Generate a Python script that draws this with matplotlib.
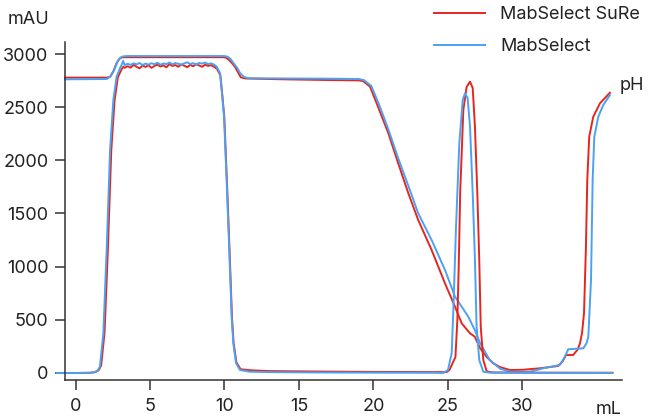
import matplotlib
matplotlib.use("Agg")
import matplotlib.pyplot as plt
from matplotlib.lines import Line2D

plt.rcParams['font.family'] = ['Inter', 'DejaVu Sans']

RED = '#e6261e'
BLUE = '#4ba1f3'

# UV trace, MabSelect SuRe (red)
sure_uv_x = [-1.25, 0, 1.0, 1.3, 1.55, 1.72, 1.95, 2.17, 2.4, 2.62, 2.84, 3.07, 3.2, 3.3,
             3.5, 3.7, 3.9, 4.1, 4.3, 4.5, 4.7, 4.9, 5.1, 5.3, 5.5, 5.7, 5.9, 6.1, 6.3,
             6.5, 6.7, 6.9, 7.1, 7.3, 7.5, 7.7, 7.9, 8.1, 8.3, 8.5, 8.7, 8.9, 9.1, 9.3,
             9.5, 9.72, 9.83, 9.99, 10.17, 10.34, 10.5, 10.61, 10.8, 11.08, 11.8, 13, 16,
             20, 24, 24.9, 25.1, 25.5, 25.63, 25.72, 25.82, 26.03, 26.25, 26.48, 26.66,
             26.81, 26.97, 27.1, 27.2, 27.37, 27.6, 28, 30, 36.05]
sure_uv_y = [0, 0, 2, 8, 25, 70, 380, 1150, 2090, 2560, 2780, 2850, 2880, 2870,
             2885, 2872, 2898, 2880, 2865, 2892, 2878, 2895, 2870, 2888, 2900, 2882,
             2893, 2875, 2905, 2888, 2896, 2880, 2902, 2890, 2876, 2898, 2885, 2905,
             2892, 2880, 2900, 2888, 2895, 2880,
             2860, 2800, 2650, 2400, 1780, 1150, 530, 285, 100, 35, 25, 18, 14,
             10, 8, 8, 28, 150, 500, 1000, 1700, 2473, 2690, 2740, 2680,
             2316, 1690, 1060, 432, 122, 15, 5, 3, 2]

# UV trace, MabSelect (blue)
mab_uv_x = [-1.25, 0, 1.0, 1.2, 1.45, 1.64, 1.87, 2.09, 2.32, 2.54, 2.76, 2.99, 3.1, 3.2, 3.3,
            3.5, 3.7, 3.9, 4.1, 4.3, 4.5, 4.7, 4.9, 5.1, 5.3, 5.5, 5.7, 5.9, 6.1, 6.3,
            6.5, 6.7, 6.9, 7.1, 7.3, 7.5, 7.7, 7.9, 8.1, 8.3, 8.5, 8.7, 8.9, 9.1, 9.3,
            9.48, 9.7, 9.81, 9.97, 10.15, 10.32, 10.48, 10.59, 10.77, 11.04, 11.7, 13, 16,
            20, 24, 24.68, 25.0, 25.25, 25.36, 25.54, 25.76, 25.99, 26.14, 26.32, 26.48,
            26.66, 26.81, 26.92, 27.1, 27.37, 27.8, 30, 36.0]
mab_uv_y = [0, 0, 2, 5, 15, 60, 375, 1157, 2097, 2567, 2787, 2868, 2900, 2935, 2895,
            2908, 2898, 2912, 2902, 2916, 2896, 2910, 2900, 2913, 2904, 2918, 2899,
            2911, 2905, 2920, 2903, 2915, 2908, 2900, 2912, 2922, 2906, 2914, 2900,
            2916, 2910, 2920, 2905, 2912, 2900,
            2880, 2820, 2660, 2410, 1784, 1157, 530, 282, 94, 28, 12, 8, 5,
            3, 2, 0, 28, 188, 592, 1376, 2160, 2567, 2630, 2585, 2316,
            1690, 1060, 435, 122, 12, 3, 2, 1]

# pH trace (scaled), MabSelect SuRe (red)
sure_ph_x = [-0.7, 2.1, 2.32, 2.55, 2.76, 2.95, 3.1, 3.4, 9.9, 10.1, 10.26, 10.5, 10.7,
             10.9, 11.09, 11.4, 14, 17.1, 19.0, 19.3, 19.77, 20.3, 21.0, 21.66, 22.34,
             23.0, 23.9, 24.8, 25.47, 25.92, 26.2, 26.48, 26.8, 27.15, 27.6, 28.04, 28.5,
             29.16, 30.0, 31.17, 32.4, 32.7, 32.92, 33.4, 33.7, 33.86, 34.0, 34.13, 34.26,
             34.35, 34.48, 34.75, 35.2, 35.87]
sure_ph_y = [2778, 2778, 2785, 2840, 2915, 2955, 2968, 2970, 2970, 2966, 2950, 2915, 2880,
             2830, 2781, 2770, 2762, 2755, 2752, 2745, 2693, 2505, 2254, 1972, 1690,
             1439, 1157, 843, 624, 467, 420, 373, 341, 235, 150, 91, 55,
             28, 30, 44, 66, 110, 169, 169, 220, 279, 380, 561, 1188,
             1815, 2222, 2410, 2536, 2636]

# pH trace (scaled), MabSelect (blue)
mab_ph_x = [-0.7, 2.1, 2.35, 2.6, 2.8, 3.0, 3.2, 3.5, 10.0, 10.2, 10.4, 10.6, 10.85, 11.05,
            11.3, 11.6, 14, 17.1, 19.0, 19.35, 19.85, 20.4, 21.0, 21.66, 22.34, 23.0, 23.9,
            24.8, 25.47, 26.36, 26.8, 27.15, 27.8, 28.5, 29.16, 30.5, 31.4, 32.5, 32.8,
            33.07, 34.08, 34.3, 34.42, 34.6, 34.71, 34.82, 35.09, 35.42, 35.87]
mab_ph_y = [2762, 2765, 2790, 2850, 2925, 2965, 2978, 2981, 2981, 2975, 2955, 2915, 2870, 2820,
            2785, 2772, 2770, 2768, 2765, 2755, 2700, 2515, 2290, 2019, 1760, 1502, 1251,
            969, 718, 530, 404, 282, 122, 40, 12, 12, 44, 75, 140,
            223, 232, 280, 341, 875, 1815, 2222, 2410, 2520, 2614]

yticks = [0, 500, 1000, 1500, 2000, 2500, 3000]
xticks = [0, 5, 10, 15, 20, 25, 30]
labels = ['MabSelect SuRe', 'MabSelect']

fig = plt.figure(figsize=(6.49, 4.2), dpi=100)
ax = fig.add_axes([65 / 649, 40 / 420, 557 / 649, 338 / 420])

lw = 1.4
ax.plot(sure_ph_x, sure_ph_y, color=RED, lw=lw, clip_on=False)
ax.plot(mab_ph_x, mab_ph_y, color=BLUE, lw=lw, clip_on=False)
ax.plot(sure_uv_x, sure_uv_y, color=RED, lw=lw, clip_on=False)
ax.plot(mab_uv_x, mab_uv_y, color=BLUE, lw=lw, clip_on=False)

ax.set_xlim(-0.705, 36.68)
ax.set_ylim(-66, 3113)
ax.set_xticks(xticks)
ax.set_yticks(yticks)
ax.set_yticklabels([str(v) for v in yticks])

for s in ['top', 'right']:
    ax.spines[s].set_visible(False)
for s in ['left', 'bottom']:
    ax.spines[s].set_color('#333333')
    ax.spines[s].set_linewidth(1.1)
ax.tick_params(axis='both', length=7, width=1.1, color='#333333',
               labelsize=13, labelcolor='#222222')
ax.tick_params(axis='y', pad=5)
ax.tick_params(axis='x', pad=6)

handles = [Line2D([], [], color=RED, lw=lw), Line2D([], [], color=BLUE, lw=lw)]
fig.legend(handles, labels, loc='upper left', bbox_to_anchor=(434 / 649, 1 - 6 / 420),
           frameon=False, fontsize=13, handlelength=2.82, handletextpad=0.83,
           labelspacing=0.83, borderpad=0, borderaxespad=0, labelcolor='#222222')

fig.text(8 / 649, 1 - 20 / 420, 'mAU', fontsize=13, color='#222222', va='center', ha='left')
fig.text(620 / 649, 1 - 86 / 420, 'pH', fontsize=13, color='#222222', va='center', ha='left')
fig.text(609 / 649, 1 - 409 / 420, 'mL', fontsize=13, color='#222222', va='center', ha='center')

fig.savefig('out.png', dpi=100)
